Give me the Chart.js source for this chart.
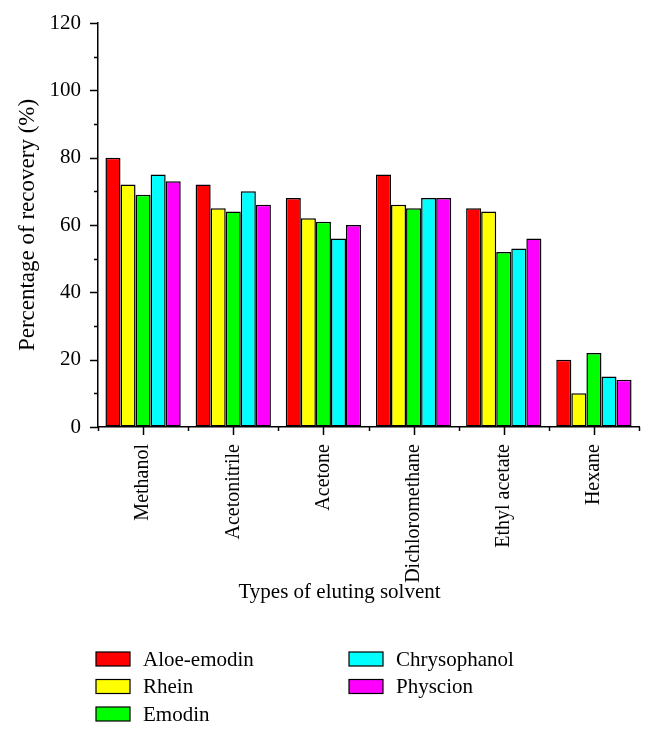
<!DOCTYPE html>
<html>
<head>
<meta charset="utf-8">
<script src="https://cdn.jsdelivr.net/npm/chart.js@4/dist/chart.umd.min.js"></script>
<style>
  html, body { margin: 0; padding: 0; background: #fff; }
  #wrap { width: 655px; height: 736px; position: relative; }
</style>
</head>
<body>
<div id="wrap"><canvas id="chart"></canvas></div>
<script>
const solvents = ['Methanol', 'Acetonitrile', 'Acetone', 'Dichloromethane', 'Ethyl acetate', 'Hexane'];
const aloeEmodin = [80, 72, 68, 75, 65, 20];
const rhein = [72, 65, 62, 66, 64, 10];
const emodin = [69, 64, 61, 65, 52, 22];
const chrysophanol = [75, 70, 56, 68, 53, 15];
const physcion = [73, 66, 60, 68, 56, 14];
const yTicks = [0, 20, 40, 60, 80, 100, 120];
const xTitle = 'Types of eluting solvent';

const FONT = '"Liberation Serif", "DejaVu Serif", serif';

function series(label, data, color) {
  return {
    label,
    data,
    backgroundColor: color,
    borderColor: '#000',
    borderWidth: 1.5,
    borderSkipped: false,
    categoryPercentage: 0.835,
    barPercentage: 1
  };
}

// axis tick marks: long ones at labels, short ones in between
const tickMarks = {
  id: 'tickMarks',
  afterDraw(chart) {
    const ctx = chart.ctx;
    const x = chart.scales.x;
    const y = chart.scales.y;
    ctx.save();
    ctx.strokeStyle = '#000';
    ctx.lineWidth = 1.5;
    ctx.beginPath();
    for (let v = 0; v <= 120; v += 10) {
      const py = Math.round(y.getPixelForValue(v)) + 0.5;
      const len = yTicks.includes(v) ? 8 : 4;
      ctx.moveTo(x.left, py);
      ctx.lineTo(x.left - len, py);
    }
    solvents.forEach((s, i) => {
      const px = Math.round(x.getPixelForValue(i)) + 0.5;
      ctx.moveTo(px, y.bottom);
      ctx.lineTo(px, y.bottom + 8);
    });
    for (let i = 0; i <= solvents.length; i++) {
      const px = Math.round(x.getPixelForValue(i - 0.5)) + 0.5;
      ctx.moveTo(px, y.bottom);
      ctx.lineTo(px, y.bottom + 4);
    }
    ctx.stroke();
    ctx.restore();
  }
};

// x title and a legend in two columns, filled top to bottom
const bottomText = {
  id: 'bottomText',
  afterDraw(chart) {
    const ctx = chart.ctx;
    const sets = chart.data.datasets;
    ctx.save();
    ctx.fillStyle = '#000';
    ctx.font = '21px ' + FONT;
    ctx.textAlign = 'center';
    ctx.textBaseline = 'middle';
    ctx.fillText(xTitle, chart.width / 2 + 12, chart.height - 144);

    const top = chart.height - 77;
    ctx.textAlign = 'left';
    sets.forEach((ds, i) => {
      const col = i < 3 ? 0 : 1;
      const row = i < 3 ? i : i - 3;
      const bx = 96 + col * 253;
      const by = top + row * 27.5;
      ctx.fillStyle = ds.backgroundColor;
      ctx.fillRect(bx, by - 7, 34, 14);
      ctx.strokeStyle = '#000';
      ctx.lineWidth = 1.2;
      ctx.strokeRect(bx, by - 7, 34, 14);
      ctx.fillStyle = '#000';
      ctx.fillText(ds.label, bx + 47, by + 1);
    });
    ctx.restore();
  }
};

new Chart(document.getElementById('chart'), {
  type: 'bar',
  data: {
    labels: solvents,
    datasets: [
      series('Aloe-emodin', aloeEmodin, '#ff0000'),
      series('Rhein', rhein, '#ffff00'),
      series('Emodin', emodin, '#00ff00'),
      series('Chrysophanol', chrysophanol, '#00ffff'),
      series('Physcion', physcion, '#ff00ff')
    ]
  },
  options: {
    responsive: true,
    maintainAspectRatio: false,
    animation: false,
    layout: { padding: { top: 23, right: 16, bottom: 131, left: 0 } },
    plugins: {
      legend: { display: false },
      tooltip: { enabled: false }
    },
    scales: {
      x: {
        grid: { display: true, drawOnChartArea: false, drawTicks: false, color: 'transparent' },
        border: { display: true, color: '#000', width: 1.5 },
        ticks: {
          color: '#000',
          font: { family: FONT, size: 20 },
          minRotation: 90,
          maxRotation: 90,
          padding: 17,
          autoSkip: false
        },
        afterFit(scale) {
          scale.height = 178;
          scale.paddingLeft = 0;
          scale.paddingRight = 0;
        }
      },
      y: {
        min: 0,
        max: 120,
        grid: { display: true, drawOnChartArea: false, drawTicks: false, color: 'transparent' },
        border: { display: true, color: '#000', width: 1.5 },
        ticks: {
          stepSize: 10,
          color: '#000',
          font: { family: FONT, size: 21 },
          padding: 17,
          callback: (v) => (yTicks.includes(v) ? v : '')
        },
        title: {
          display: true,
          text: 'Percentage of recovery (%)',
          color: '#000',
          font: { family: FONT, size: 23 },
          padding: { top: 14, bottom: 0 }
        },
        afterFit(scale) {
          scale.width = 98;
          scale.paddingTop = 0;
          scale.paddingBottom = 0;
        }
      }
    }
  },
  plugins: [tickMarks, bottomText]
});
</script>
</body>
</html>
